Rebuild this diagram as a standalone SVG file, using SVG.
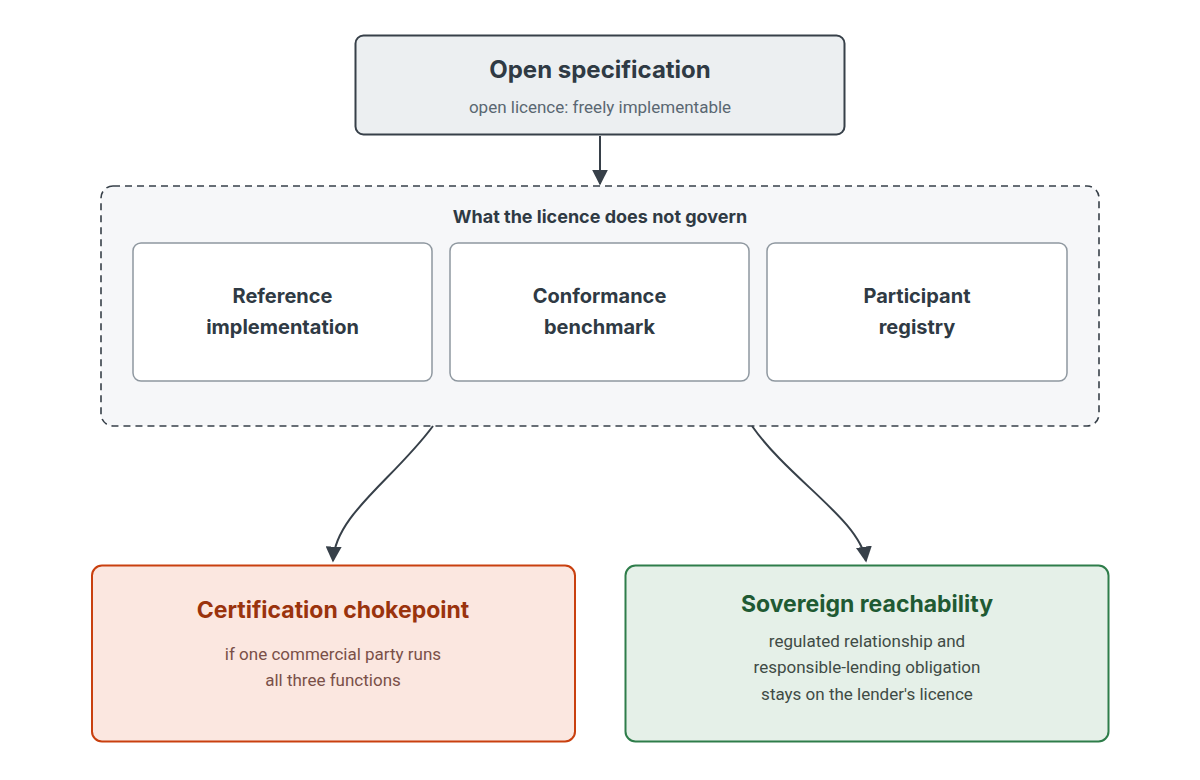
<svg xmlns="http://www.w3.org/2000/svg" width="1200" height="780" viewBox="0 0 1200 780">
<style>
.t{font-family:Inter,"Open Sans","Liberation Sans",sans-serif;font-weight:700;text-anchor:middle}
.s{font-family:Roboto,"Liberation Sans",sans-serif;font-size:17px;text-anchor:middle}
.c{fill:none;stroke:#374049;stroke-width:2}
.inner{fill:#fff;stroke:#8f98a0;stroke-width:1.5}
</style>
<defs><marker id="a" viewBox="0 0 10 10" refX="9" refY="5" markerWidth="16" markerHeight="16" markerUnits="userSpaceOnUse" orient="auto"><path d="M0,0L10,5L0,10z" fill="#374049"/></marker></defs>
<rect width="1200" height="780" fill="#fff"/>
<g id="top"><rect x="355.5" y="35.5" width="489" height="99" rx="8" fill="#eceff1" stroke="#374049" stroke-width="2"/>
<text class="t" x="600" y="78" font-size="24" fill="#2f3a44">Open specification</text>
<text class="s" x="600" y="113" fill="#5a6772">open licence: freely implementable</text></g>
<g id="group"><rect x="101" y="186" width="998" height="240" rx="12" fill="#f6f7f9" stroke="#374049" stroke-width="1.6" stroke-dasharray="7,5"/>
<text class="t" x="600" y="223" font-size="18" fill="#2f3a44">What the licence does not govern</text></g>
<g id="ref"><rect class="inner" x="133" y="243" width="299" height="138" rx="8"/>
<text class="t" x="282.5" y="303" font-size="20" fill="#2f3a44">Reference</text><text class="t" x="282.5" y="334" font-size="20" fill="#2f3a44">implementation</text></g>
<g id="conf"><rect class="inner" x="450" y="243" width="299" height="138" rx="8"/>
<text class="t" x="599.5" y="303" font-size="20" fill="#2f3a44">Conformance</text><text class="t" x="599.5" y="334" font-size="20" fill="#2f3a44">benchmark</text></g>
<g id="reg"><rect class="inner" x="767" y="243" width="300" height="138" rx="8"/>
<text class="t" x="917" y="303" font-size="20" fill="#2f3a44">Participant</text><text class="t" x="917" y="334" font-size="20" fill="#2f3a44">registry</text></g>
<g id="cert"><rect x="92" y="565.5" width="483" height="176" rx="10" fill="#fbe7e0" stroke="#c9400f" stroke-width="2"/>
<text class="t" x="333" y="618" font-size="23" fill="#9a330d">Certification chokepoint</text>
<text class="s" x="333" y="660" fill="#7a5048">if one commercial party runs</text>
<text class="s" x="333" y="686" fill="#7a5048">all three functions</text></g>
<g id="sov"><rect x="625.5" y="565.5" width="483" height="176" rx="10" fill="#e5f0e8" stroke="#2e7d4a" stroke-width="2"/>
<text class="t" x="867" y="612" font-size="23" fill="#1f5a33">Sovereign reachability</text>
<text class="s" x="867" y="647" fill="#3f4b45">regulated relationship and</text>
<text class="s" x="867" y="673" fill="#3f4b45">responsible-lending obligation</text>
<text class="s" x="867" y="700" fill="#3f4b45">stays on the lender's licence</text></g>
<g id="connectors">
<path class="c" d="M600,136V184" marker-end="url(#a)"/>
<path class="c" d="M430,426C390,480 332,515 330,561" marker-end="url(#a)" transform="translate(3,0)"/>
<path class="c" d="M752,426C790,480 860,520 866,561" marker-end="url(#a)"/>
</g>
</svg>
